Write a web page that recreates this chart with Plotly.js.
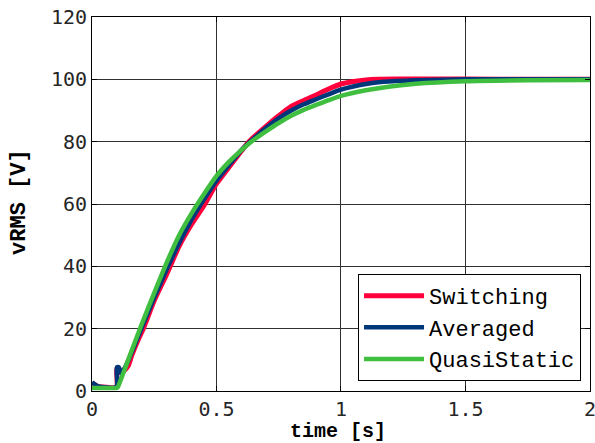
<!DOCTYPE html>
<html>
<head>
<meta charset="utf-8">
<script src="https://cdn.plot.ly/plotly-3.0.1.min.js"></script>
<style>
html,body{margin:0;padding:0;background:#fff;}
#chart{width:595px;height:443px;}
</style>
</head>
<body>
<div id="chart"></div>
<script>
// Switching
var tSwitching = [0, 0.01, 0.02, 0.04, 0.098, 0.1, 0.108, 0.117, 0.13, 0.145, 0.16, 0.185, 0.206, 0.25, 0.3, 0.35, 0.4, 0.45, 0.5, 0.55, 0.6, 0.63, 0.7, 0.75, 0.8, 0.85, 0.9, 0.95, 1.0, 1.05, 1.1, 1.15, 1.3, 1.5, 1.75, 2.0];
var vSwitching = [2.6, 2.1, 1.6, 1.3, 1.3, 7.2, 7.2, 5.8, 6.6, 8.0, 11.5, 16.4, 20.0, 29.0, 37.5, 46.5, 53.5, 59.5, 66.5, 71.8, 77.0, 80.0, 85.0, 88.3, 91.3, 93.2, 95.0, 96.9, 98.5, 99.3, 99.8, 100.0, 100.1, 100.1, 100.0, 100.0];
// Averaged
var tAveraged = [0, 0.01, 0.02, 0.04, 0.098, 0.1, 0.108, 0.115, 0.13, 0.15, 0.2, 0.25, 0.3, 0.35, 0.4, 0.45, 0.5, 0.55, 0.6, 0.65, 0.7, 0.75, 0.8, 0.85, 0.9, 0.95, 1.0, 1.1, 1.17, 1.3, 1.5, 1.75, 2.0];
var vAveraged = [2.8, 2.2, 1.7, 1.3, 1.3, 7.6, 7.6, 5.8, 7.2, 10.6, 20.3, 30.0, 39.0, 47.5, 55.0, 61.5, 67.5, 72.5, 77.3, 81.0, 84.5, 87.5, 90.0, 92.0, 93.6, 95.2, 96.7, 98.5, 99.2, 99.7, 100.0, 100.0, 100.0];
// QuasiStatic
var tQuasi = [0, 0.05, 0.1, 0.104, 0.15, 0.2, 0.25, 0.3, 0.35, 0.4, 0.45, 0.5, 0.55, 0.6, 0.65, 0.7, 0.75, 0.8, 0.85, 0.9, 0.95, 1.0, 1.1, 1.17, 1.3, 1.5, 1.75, 2.0];
var vQuasi = [1.0, 1.0, 1.0, 1.3, 11.0, 21.5, 31.5, 41.2, 50.0, 57.0, 63.2, 69.0, 73.5, 77.3, 80.6, 83.4, 86.0, 88.3, 90.2, 91.8, 93.3, 94.7, 96.5, 97.4, 98.6, 99.4, 99.7, 99.8];

var xTicks = [0, 0.5, 1, 1.5, 2];
var xTickText = ['0', '0.5', '1', '1.5', '2'];
var yTicks = [0, 20, 40, 60, 80, 100, 120];
var xTitle = 'time [s]';
var yTitle = 'vRMS [V]';

var traces = [
  {x: tSwitching, y: vSwitching, name: 'Switching', mode: 'lines', line: {color: 'rgb(255,0,60)', width: 5, shape: 'spline', smoothing: 0.6}},
  {x: tAveraged, y: vAveraged, name: 'Averaged', mode: 'lines', line: {color: 'rgb(0,55,122)', width: 4.5, shape: 'spline', smoothing: 0.6}},
  {x: tQuasi, y: vQuasi, name: 'QuasiStatic', mode: 'lines', line: {color: 'rgb(64,190,64)', width: 4.5, shape: 'spline', smoothing: 0.6}}
];

var axisCommon = {
  showline: true, linecolor: '#000', linewidth: 1, mirror: 'ticks',
  showgrid: true, gridcolor: '#303030', gridwidth: 1,
  zeroline: false, ticks: 'inside', ticklen: 5, tickcolor: '#000',
  ticklabeloverflow: 'allow',
  tickfont: {family: 'DejaVu Sans Mono', size: 20, color: '#262626'}
};

var layout = {
  width: 595, height: 443,
  margin: {l: 92, r: 5, t: 17, b: 52},
  paper_bgcolor: '#fff', plot_bgcolor: '#fff',
  showlegend: true,
  xaxis: Object.assign({}, axisCommon, {range: [0, 2.0001], tickvals: xTicks, ticktext: xTickText}),
  yaxis: Object.assign({}, axisCommon, {range: [0, 120], tickvals: yTicks}),
  annotations: [
    {text: '<b>' + xTitle + '</b>', xref: 'paper', yref: 'paper', x: 0.494, y: -0.1096,
     xanchor: 'center', yanchor: 'middle', showarrow: false, borderpad: 0,
     font: {family: 'Liberation Mono', size: 20, color: '#000'}},
    {text: '<b>' + yTitle + '</b>', xref: 'paper', yref: 'paper', x: -0.147, y: 0.505,
     xanchor: 'center', yanchor: 'middle', textangle: -90, showarrow: false, borderpad: 0,
     font: {family: 'Liberation Mono', size: 22, color: '#000'}}
  ],
  legend: {
    x: 0.982, y: 0.027, xanchor: 'right', yanchor: 'bottom',
    bgcolor: '#fff', bordercolor: '#000', borderwidth: 1,
    font: {family: 'Liberation Mono', size: 22, color: '#000'},
    itemwidth: 60, tracegroupgap: 0
  }
};

Plotly.newPlot('chart', traces, layout, {displayModeBar: false, staticPlot: true});
</script>
</body>
</html>
